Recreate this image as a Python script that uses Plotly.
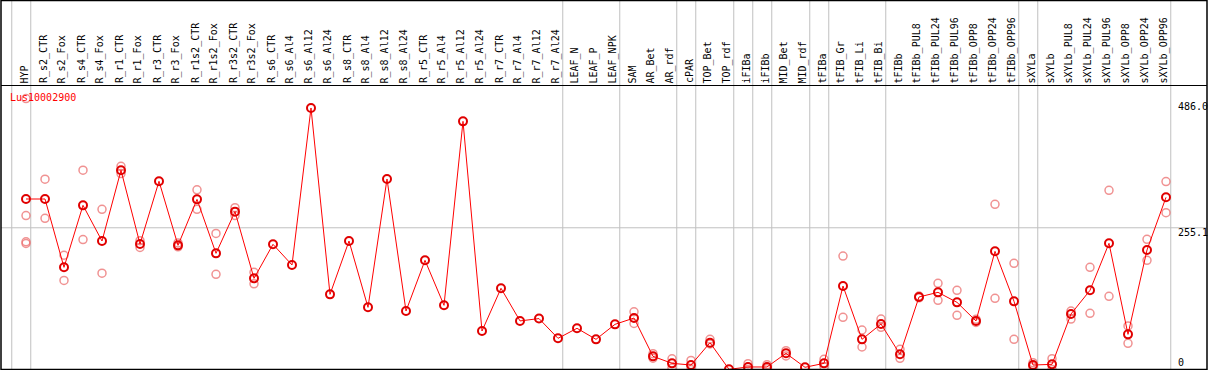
import plotly.graph_objects as go

# ---------------- data ----------------
categories = [
    "HYP", "R_s2_CTR", "R_s2_Fox", "R_s4_CTR", "R_s4_Fox", "R_r1_CTR", "R_r1_Fox",
    "R_r3_CTR", "R_r3_Fox", "R_r1s2_CTR", "R_r1s2_Fox", "R_r3s2_CTR", "R_r3s2_Fox",
    "R_s6_CTR", "R_s6_Al4", "R_s6_Al12", "R_s6_Al24", "R_s8_CTR", "R_s8_Al4",
    "R_s8_Al12", "R_s8_Al24", "R_r5_CTR", "R_r5_Al4", "R_r5_Al12", "R_r5_Al24",
    "R_r7_CTR", "R_r7_Al4", "R_r7_Al12", "R_r7_Al24", "LEAF_N", "LEAF_P", "LEAF_NPK",
    "SAM", "AR_Bet", "AR_rdf", "cPAR", "TOP_Bet", "TOP_rdf", "iFIBa", "iFIBb",
    "MID_Bet", "MID_rdf", "tFIBa", "tFIB_Gr", "tFIB_Li", "tFIB_Bi", "tFIBb",
    "tFIBb_PUL8", "tFIBb_PUL24", "tFIBb_PUL96", "tFIBb_OPP8", "tFIBb_OPP24",
    "tFIBb_OPP96", "sXYLa", "sXYLb", "sXYLb_PUL8", "sXYLb_PUL24", "sXYLb_PUL96",
    "sXYLb_OPP8", "sXYLb_OPP24", "sXYLb_OPP96",
]

mean_values = [
    306.5, 306.5, 184.4, 295.2, 231.4, 357.8, 226.1, 338.2, 223.7, 305.9, 209.4,
    283.9, 164.7, 225.5, 188.6, 469.2, 136.1, 231.4, 112.9, 342.3, 106.3, 196.9,
    116.5, 445.3, 70.6, 146.9, 88.6, 92.8, 57.5, 75.4, 55.7, 82.5, 93.8, 25.3,
    12.8, 9.8, 49.7, 2.1, 6.3, 6.3, 30.7, 5.7, 12.8, 151.0, 55.7, 83.1, 28.9,
    131.4, 139.7, 121.8, 88.5, 213.0, 123.6, 9.8, 11.0, 101.0, 143.3, 227.3,
    64.6, 215.4, 309.5,
]

replicate_values = [
    [486.0, 277.0, 230.0, 227.0], [342.0, 272.0], [206.0, 161.0], [358.0, 234.0],
    [288.0, 174.0], [365.0, 352.0], [232.0, 220.0], [], [228.0, 221.0],
    [323.0, 288.0], [245.0, 172.0], [291.0, 277.0], [175.5, 155.0],
    [], [], [], [], [], [], [], [], [], [], [], [], [], [], [], [], [], [], [],
    [105.0, 84.0], [30.0, 22.0], [21.0, 4.5], [18.0, 2.0], [55.7, 47.4], [],
    [12.2, 2.0], [10.4, 3.3], [35.4, 26.0], [], [20.0, 6.9], [204.6, 95.0],
    [72.4, 42.0], [92.0, 77.2], [37.8, 21.7], [133.0, 130.0], [155.8, 125.4],
    [143.3, 98.6], [91.5, 86.0], [297.0, 129.0], [191.5, 55.7], [14.0, 6.9],
    [21.1, 2.0], [106.3, 92.0], [184.4, 102.2], [322.0, 132.6], [79.6, 48.6],
    [234.4, 196.9], [337.6, 282.1],
]

axis_labels = ["486.0", "255.1", "0"]
reference_value = 255.1
title_text = "Lus10002900"

# group separators (placed just after these category indices)
separator_after = [-1, 0, 28, 31, 34, 35, 37, 38, 39, 41, 42, 45, 52, 53, 60]

# ---------------- geometry ----------------
W, H = 1209, 370
X0, DX = 26.0, 19.0          # pixel of first category, spacing
Y0, KY = 370.5, 0.5595       # pixel of value 0, pixels per unit

x_range = [(0 - X0) / DX, (W - X0) / DX]
y_range = [(Y0 - H) / KY, Y0 / KY]

def py(pix):  # pixel-from-top -> paper
    return 1 - pix / H

def px(pix):
    return pix / W

idx = list(range(len(categories)))

rep_x, rep_y = [], []
for i, reps in enumerate(replicate_values):
    for v in reps:
        rep_x.append(i)
        rep_y.append(v)

fig = go.Figure()
fig.add_trace(go.Scatter(
    x=rep_x, y=rep_y, mode="markers",
    marker=dict(symbol="circle-open", size=8, color="rgba(235,110,110,0.75)",
                line=dict(width=1.5)),
    hoverinfo="skip", showlegend=False,
))
fig.add_trace(go.Scatter(
    x=idx, y=mean_values, mode="lines+markers",
    line=dict(color="#ff0000", width=1),
    marker=dict(symbol="circle-open", size=8, color="#e00000",
                line=dict(width=2)),
    showlegend=False,
))

shapes = []
for s in separator_after:
    shapes.append(dict(type="line", xref="x", yref="paper",
                       x0=s + 0.25, x1=s + 0.25, y0=py(369), y1=1,
                       line=dict(color="#c0c0c0", width=1), layer="below"))
shapes.append(dict(type="line", xref="paper", yref="y",
                   x0=px(1), x1=px(1207), y0=reference_value, y1=reference_value,
                   line=dict(color="#c0c0c0", width=1), layer="below"))
# borders
shapes.append(dict(type="rect", xref="paper", yref="paper",
                   x0=px(1), x1=px(1207), y0=py(369.5), y1=py(0.5),
                   line=dict(color="black", width=1.5)))
shapes.append(dict(type="line", xref="paper", yref="paper",
                   x0=px(1), x1=px(1207), y0=py(85.5), y1=py(85.5),
                   line=dict(color="black", width=1.2)))

annotations = []
for i, c in enumerate(categories):
    annotations.append(dict(
        x=i - 0.08, y=py(84), xref="x", yref="paper", text=c, showarrow=False,
        textangle=-90, xanchor="center", yanchor="bottom",
        font=dict(family="DejaVu Sans Mono", size=10, color="black"),
        borderpad=0))
annotations.append(dict(
    x=px(9), y=py(97), xref="paper", yref="paper", text=title_text,
    showarrow=False, xanchor="left", yanchor="middle",
    font=dict(family="DejaVu Sans Mono", size=10, color="#ff0000"), borderpad=0))
label_pix = [107, 232, 362]
for lab, lp in zip(axis_labels, label_pix):
    annotations.append(dict(
        x=px(1177), y=py(lp), xref="paper", yref="paper", text=lab,
        showarrow=False, xanchor="left", yanchor="middle",
        font=dict(family="DejaVu Sans Mono", size=10, color="black"), borderpad=0))

fig.update_layout(
    width=W, height=H,
    margin=dict(l=0, r=0, t=0, b=0, pad=0),
    paper_bgcolor="white", plot_bgcolor="white",
    xaxis=dict(range=x_range, visible=False, fixedrange=True),
    yaxis=dict(range=y_range, visible=False, fixedrange=True),
    shapes=shapes, annotations=annotations,
    showlegend=False,
)

fig.write_html(
    "out.html",
    config={"displayModeBar": False},
    post_script="document.body.style.margin='0';document.body.style.overflow='hidden';",
)
